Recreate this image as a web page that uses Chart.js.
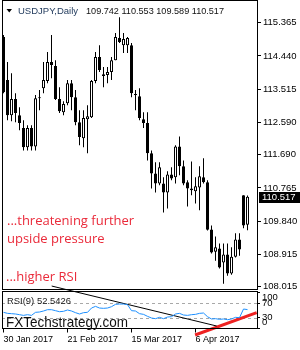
<!DOCTYPE html>
<html>
<head>
<meta charset="utf-8">
<script src="https://cdn.jsdelivr.net/npm/chart.js@4/dist/chart.umd.min.js"></script>
<style>
  html, body { margin: 0; padding: 0; background: #fff; }
  #wrap { position: relative; width: 300px; height: 350px; overflow: hidden; }
  #main { position: absolute; left: 0; top: 0; }
  #rsi { position: absolute; left: 0; top: 284px; }
</style>
</head>
<body>
<div id="wrap">
  <canvas id="main" width="300" height="292" style="width:300px;height:292px"></canvas>
  <canvas id="rsi" width="300" height="66" style="width:300px;height:66px"></canvas>
</div>
<script>
// USDJPY daily, 30 Jan 2017 .. 25 Apr 2017 (one entry per trading day)
var opens  = [114.97, 113.77, 112.79, 113.24, 112.79, 112.43, 111.90, 112.43, 111.92, 113.26,
              113.54, 113.74, 114.27, 114.16, 113.24, 112.87, 113.12, 113.68, 113.29, 112.59,
              112.15, 112.68, 112.73, 113.74, 114.41, 113.93, 113.91, 113.99, 114.32, 114.94,
              114.74, 114.74, 114.74, 113.38, 113.32, 112.68, 112.57, 111.73, 111.17, 110.89,
              110.89, 110.64, 111.14, 111.06, 111.92, 111.37, 110.92, 110.75, 110.67, 110.78,
              111.06, 110.92, 109.61, 108.99, 109.08, 108.69, 108.91, 108.38, 108.85, 109.33,
              110.56, 109.742];
var highs  = [115.02, 114.27, 113.96, 113.40, 113.01, 112.65, 112.51, 112.51, 113.35, 113.49,
              114.27, 114.55, 115.02, 114.32, 113.57, 113.18, 113.77, 113.77, 113.49, 112.93,
              112.93, 113.07, 113.77, 114.55, 114.74, 114.13, 114.13, 114.41, 115.08, 115.52,
              115.08, 114.97, 114.80, 113.49, 113.54, 112.87, 112.87, 111.81, 111.48, 111.48,
              111.06, 111.23, 111.34, 111.95, 112.20, 111.53, 110.98, 111.50, 111.06, 111.37,
              111.59, 110.98, 109.72, 109.41, 109.22, 109.22, 109.22, 109.11, 109.50, 109.50,
              110.56, 110.553];
var lows   = [113.40, 112.65, 112.62, 112.59, 112.37, 111.81, 111.81, 111.81, 111.81, 112.93,
              113.40, 113.68, 113.82, 113.21, 112.85, 112.79, 113.07, 112.93, 112.51, 111.95,
              111.90, 111.73, 112.71, 113.68, 113.99, 113.57, 113.68, 113.77, 114.32, 114.80,
              114.52, 114.52, 113.29, 112.93, 112.65, 112.43, 111.53, 110.75, 110.64, 110.84,
              110.08, 110.19, 110.98, 110.89, 111.12, 110.84, 110.25, 110.56, 110.33, 110.14,
              110.89, 109.58, 108.94, 108.74, 108.52, 108.10, 108.32, 108.35, 108.83, 108.88,
              109.64, 109.589];
var closes = [113.43, 112.79, 113.24, 112.85, 112.57, 111.90, 112.43, 111.92, 113.26, 113.29,
              113.77, 114.27, 114.19, 113.24, 112.90, 113.10, 113.68, 113.29, 112.59, 112.18,
              112.71, 112.76, 113.74, 114.41, 114.05, 113.88, 113.99, 114.32, 114.97, 114.83,
              114.91, 114.94, 113.40, 113.35, 112.71, 112.57, 111.73, 111.17, 110.89, 111.34,
              110.64, 111.14, 111.03, 111.92, 111.37, 110.89, 110.75, 110.70, 110.81, 111.09,
              110.92, 109.60, 108.97, 109.11, 108.55, 108.91, 108.38, 108.85, 109.33, 109.05,
              109.72, 110.517];

// RSI(9)
var rsi = [44.9, 42.1, 41.2, 40.3, 38.4, 36.5, 38.4, 36.5, 44.9, 45.8,
           48.6, 52.3, 52.3, 49.5, 46.7, 47.7, 51.4, 48.6, 44.0, 40.3,
           44.0, 44.9, 56.9, 61.5, 56.9, 56.0, 56.9, 60.6, 67.1, 68.0,
           68.0, 66.2, 49.5, 48.6, 41.2, 39.3, 33.8, 29.1, 27.3, 31.0,
           27.3, 31.9, 32.8, 40.3, 42.1, 37.5, 36.5, 38.4, 39.3, 42.1,
           43.0, 32.8, 26.4, 27.3, 25.4, 26.4, 24.5, 26.4, 31.0, 30.1,
           54.1, 52.5426];

// trend lines drawn on the RSI window: [bar index, rsi value]
var rsiDownLine = [[12.05, 118], [53.3, 6.9]];
var rsiUpLine   = [[47.9, -18], [63.3, 43.9]];

var priceTicks = [108.015, 108.915, 109.840, 110.765, 111.690, 112.590, 113.515, 114.440, 115.365];
var rsiTicks   = [0, 30, 70, 100];
var dateTickIndex  = [0, 16, 32, 48];
var dateTickLabels = ['30 Jan 2017', '21 Feb 2017', '15 Mar 2017', '6 Apr 2017'];

var symbolText = 'USDJPY,Daily';
var rsiTitle = 'RSI(9) 52.5426';
var notes = ['...threatening further', 'upside pressure', '...higher RSI'];
var watermark = 'FXTechstrategy.com';

var FONT = 'Liberation Sans';
var last = closes.length - 1;

var bodies = [], wicks = [], bodyColors = [];
for (var i = 0; i < closes.length; i++) {
  bodies.push({ x: i, y: [opens[i], closes[i]] });
  wicks.push({ x: i, y: [lows[i], highs[i]] });
  bodyColors.push(closes[i] >= opens[i] ? '#ffffff' : '#000000');
}

// frame, header, notes and price marker of the main window
var mainDecor = {
  id: 'mainDecor',
  afterDraw: function(chart) {
    var ctx = chart.ctx, a = chart.chartArea, ys = chart.scales.y;
    ctx.save();
    ctx.strokeStyle = '#000';
    ctx.lineWidth = 1;
    ctx.strokeRect(a.left + 0.5, a.top + 0.5, a.right - a.left, a.bottom - a.top);

    // header
    ctx.fillStyle = '#000';
    ctx.beginPath();
    ctx.moveTo(6.5, 9); ctx.lineTo(12, 9); ctx.lineTo(9.25, 12.5);
    ctx.closePath(); ctx.fill();
    ctx.textBaseline = 'middle';
    ctx.textAlign = 'left';
    ctx.font = '9.5px "' + FONT + '"';
    ctx.fillStyle = '#233c5e';
    ctx.fillText(symbolText, 18, 11, 61);
    ctx.fillStyle = '#111';
    var ohlc = [opens[last], highs[last], lows[last], closes[last]].map(function(v) { return v.toFixed(3); }).join(' ');
    ctx.fillText(ohlc, 86, 11, 138);

    // red notes
    ctx.fillStyle = '#ea2a3a';
    ctx.font = '13px "Open Sans"';
    ctx.fillText(notes[0], 7, 221, 131);
    ctx.fillText(notes[1], 7, 239.5);
    ctx.fillText(notes[2], 6, 277);

    // last price box
    var py = ys.getPixelForValue(closes[last]);
    ctx.fillStyle = '#000';
    ctx.fillRect(259, Math.round(py) - 5, 41, 11);
    ctx.fillStyle = '#fff';
    ctx.font = '9.5px "' + FONT + '"';
    ctx.fillText(closes[last].toFixed(3), 262, Math.round(py) + 0.5);
    ctx.restore();
  }
};

new Chart(document.getElementById('main'), {
  type: 'bar',
  data: {
    datasets: [
      { label: 'body', data: bodies, backgroundColor: bodyColors, borderColor: '#000', borderWidth: 1,
        borderSkipped: false, barThickness: 3, grouped: false, inflateAmount: 0, order: 1 },
      { label: 'wick', data: wicks, backgroundColor: '#000', borderWidth: 0,
        barThickness: 1, grouped: false, inflateAmount: 0, order: 2 }
    ]
  },
  options: {
    responsive: false,
    animation: false,
    events: [],
    layout: { padding: { left: 2, top: 0, right: 0, bottom: 3 } },
    plugins: { legend: { display: false }, tooltip: { enabled: false } },
    scales: {
      x: { type: 'linear', min: -0.375, max: 63.375, offset: false, display: false },
      y: {
        position: 'right',
        min: 107.951, max: 115.997,
        afterBuildTicks: function(scale) {
          scale.ticks = priceTicks.map(function(v) { return { value: v }; });
        },
        afterFit: function(scale) {
          scale.width = 43;
          scale.paddingTop = 0;
          scale.paddingBottom = 0;
        },
        ticks: {
          color: '#000',
          padding: 2,
          autoSkip: false,
          font: { family: FONT, size: 9.5 },
          callback: function(v) { return Number(v).toFixed(3); }
        },
        grid: { drawOnChartArea: false, drawTicks: true, tickLength: 4, color: '#000' },
        border: { display: false }
      }
    }
  },
  plugins: [mainDecor]
});

// frame, levels and labels of the RSI window
var rsiDecor = {
  id: 'rsiDecor',
  beforeDatasetsDraw: function(chart) {
    var ctx = chart.ctx, a = chart.chartArea, ys = chart.scales.y;
    ctx.save();
    ctx.strokeStyle = '#a8a8a8';
    ctx.lineWidth = 1;
    ctx.setLineDash([3, 3]);
    [30, 70].forEach(function(v) {
      var py = Math.round(ys.getPixelForValue(v)) + 0.5;
      ctx.beginPath(); ctx.moveTo(a.left, py); ctx.lineTo(a.right, py); ctx.stroke();
    });
    ctx.restore();
  },
  afterDraw: function(chart) {
    var ctx = chart.ctx, a = chart.chartArea, ys = chart.scales.y;
    ctx.save();
    ctx.strokeStyle = '#000';
    ctx.lineWidth = 1;
    var top = Math.floor(a.top) - 1, bot = Math.floor(a.bottom);
    ctx.strokeRect(a.left + 0.5, top + 0.5, a.right - a.left, bot - top);

    ctx.fillStyle = '#000';
    ctx.textBaseline = 'middle';
    ctx.textAlign = 'left';
    ctx.font = '9.5px "' + FONT + '"';
    rsiTicks.forEach(function(v) {
      var py = ys.getPixelForValue(v);
      py = Math.min(Math.max(py, a.top + 5), a.bottom - 6.5);
      ctx.fillText(String(v), 262, py);
    });

    ctx.fillStyle = '#1a1a1a';
    ctx.fillText(rsiTitle, 7, 17, 64);
    ctx.fillStyle = '#111';
    ctx.font = '15px "' + FONT + '"';
    ctx.fillText(watermark, 6, 38.5, 122);
    ctx.restore();
  }
};

function pts(line) {
  return line.map(function(p) { return { x: p[0], y: p[1] }; });
}

new Chart(document.getElementById('rsi'), {
  type: 'line',
  data: {
    datasets: [
      { label: 'RSI(9)', data: rsi.map(function(v, i) { return { x: i, y: v }; }),
        borderColor: '#1e90ff', borderWidth: 1, pointRadius: 0, tension: 0, fill: false },
      { label: 'down', data: pts(rsiDownLine), borderColor: '#000', borderWidth: 1,
        pointRadius: 0, fill: false, clip: false },
      { label: 'up', data: pts(rsiUpLine), borderColor: '#ee2222', borderWidth: 3,
        pointRadius: 0, fill: false, clip: false }
    ]
  },
  options: {
    responsive: false,
    animation: false,
    events: [],
    layout: { padding: { left: 2, top: 8.5, right: 0, bottom: 0 } },
    plugins: { legend: { display: false }, tooltip: { enabled: false } },
    scales: {
      x: {
        type: 'linear', min: -0.375, max: 63.375, offset: false,
        afterBuildTicks: function(scale) {
          scale.ticks = dateTickIndex.map(function(v) { return { value: v }; });
        },
        afterFit: function(scale) {
          scale.height = 21.5;
          scale.paddingLeft = 0;
          scale.paddingRight = 0;
        },
        ticks: {
          color: '#000',
          align: 'start',
          padding: 2,
          maxRotation: 0,
          autoSkip: false,
          font: { family: FONT, size: 9 },
          callback: function(v) {
            var k = dateTickIndex.indexOf(v);
            return k >= 0 ? dateTickLabels[k] : '';
          }
        },
        grid: { drawOnChartArea: false, drawTicks: true, tickLength: 4, color: '#000' },
        border: { display: false }
      },
      y: {
        position: 'right', min: 0, max: 100,
        afterBuildTicks: function(scale) {
          scale.ticks = rsiTicks.map(function(v) { return { value: v }; });
        },
        afterFit: function(scale) {
          scale.width = 43;
          scale.paddingTop = 0;
          scale.paddingBottom = 0;
        },
        ticks: { display: false },
        grid: { drawOnChartArea: false, drawTicks: true, tickLength: 3, color: '#000' },
        border: { display: false }
      }
    }
  },
  plugins: [rsiDecor]
});
</script>
</body>
</html>
